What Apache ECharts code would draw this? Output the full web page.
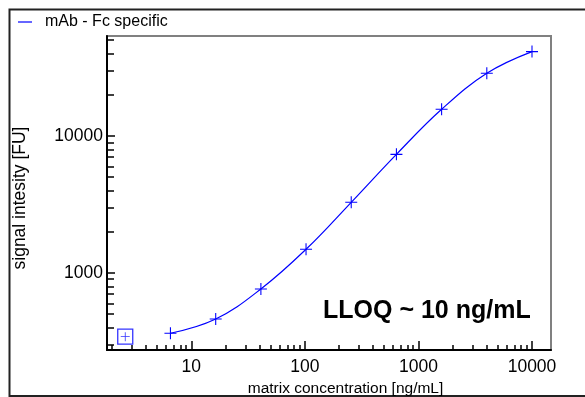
<!DOCTYPE html>
<html>
<head>
<meta charset="utf-8">
<script src="https://cdn.jsdelivr.net/npm/echarts@6/dist/echarts.min.js"></script>
<style>
html,body{margin:0;padding:0;background:#fff;}
#chart{width:585px;height:397px;}
</style>
</head>
<body>
<div id="chart"></div>
<script>
// ---- data ----
var seriesName = 'mAb - Fc specific';
var concentrations = [6.55, 16.4, 41.0, 102.4, 256, 640, 1600, 4000, 10000];
var signals = [363, 461, 764, 1489, 3281, 7346, 15660, 28700, 41300];
var blankConc = [2.62];
var blankSignal = [343];
var xTickLabels = [10, 100, 1000, 10000];
var yTickLabels = [1000, 10000];
var xRange = [1.81, 14700];
var yRange = [274, 53700];
var annotation = 'LLOQ ~ 10 ng/mL';
var xTitle = 'matrix concentration [ng/mL]';
var yTitle = 'signal intesity [FU]';

// ---- helpers ----
function lg(v){ return Math.log10(v); }
function minorTicks(lo, hi){
  var out = [];
  for (var e = Math.floor(lg(lo)); e <= Math.ceil(lg(hi)); e++){
    for (var k = 2; k <= 9; k++){
      var v = k * Math.pow(10, e);
      if (v >= lo && v <= hi) out.push(lg(v));
    }
  }
  return out;
}
var fmt = function(v){ return String(Math.round(Math.pow(10, v))); };
var FONT = 'Liberation Sans, Arial, sans-serif';
var BLUE = '#0000ff';
var plusPath = 'path://M4.55,0 H5.45 V4.55 H10 V5.45 H5.45 V10 H4.55 V5.45 H0 V4.55 H4.55 Z';

var mainData = concentrations.map(function(c, i){ return [lg(c), lg(signals[i])]; });
var blankData = blankConc.map(function(c, i){ return [lg(c), lg(blankSignal[i])]; });

var gridPos = {left: 107, top: 36, right: 34, bottom: 47, outerBoundsMode: 'none', containLabel: false};

var chart = echarts.init(document.getElementById('chart'), null, {renderer: 'canvas'});
var option = {
  animation: false,
  backgroundColor: '#ffffff',
  textStyle: {fontFamily: FONT},
  grid: [
    Object.assign({show: true, borderColor: '#808080', borderWidth: 2}, gridPos),
    Object.assign({show: false}, gridPos)
  ],
  legend: {
    data: [seriesName], left: 13, top: 9, icon: 'rect', itemWidth: 14, itemHeight: 1.2,
    textStyle: {fontSize: 16, color: '#000', fontFamily: FONT, padding: [0, 0, 0, 8]}
  },
  xAxis: [{
    gridIndex: 0, type: 'value', min: lg(xRange[0]), max: lg(xRange[1]),
    name: xTitle, nameLocation: 'middle', nameGap: 24,
    nameTextStyle: {fontSize: 15.5, color: '#000', fontFamily: FONT, padding: [0, 0, 0, 33]},
    axisLine: {show: true, lineStyle: {color: '#000', width: 2}},
    axisTick: {show: true, inside: true, length: 9, lineStyle: {color: '#000', width: 1.5}, customValues: xTickLabels.map(lg)},
    axisLabel: {show: true, color: '#000', fontSize: 17.5, margin: 8, fontFamily: FONT, customValues: xTickLabels.map(lg), formatter: fmt},
    splitLine: {show: false}
  }, {
    gridIndex: 1, type: 'value', min: lg(xRange[0]), max: lg(xRange[1]),
    axisLine: {show: false},
    axisTick: {show: true, inside: false, length: -5, lineStyle: {color: '#000', width: 1.5}, customValues: minorTicks(xRange[0], xRange[1])},
    axisLabel: {show: false},
    splitLine: {show: false}
  }],
  yAxis: [{
    gridIndex: 0, type: 'value', min: lg(yRange[0]), max: lg(yRange[1]),
    name: yTitle, nameLocation: 'middle', nameGap: 78, nameRotate: 90,
    nameTextStyle: {fontSize: 17.5, color: '#000', fontFamily: FONT, padding: [0, 10, 0, 0]},
    axisLine: {show: true, lineStyle: {color: '#000', width: 2}},
    axisTick: {show: true, inside: true, length: 8, lineStyle: {color: '#000', width: 1.5}, customValues: yTickLabels.map(lg)},
    axisLabel: {show: true, color: '#000', fontSize: 17.5, margin: 4, fontFamily: FONT, customValues: yTickLabels.map(lg), formatter: fmt},
    splitLine: {show: false}
  }, {
    gridIndex: 1, type: 'value', min: lg(yRange[0]), max: lg(yRange[1]),
    axisLine: {show: false},
    axisTick: {show: true, inside: false, length: -7, lineStyle: {color: '#000', width: 1.5}, customValues: minorTicks(yRange[0], yRange[1])},
    axisLabel: {show: false},
    splitLine: {show: false}
  }],
  series: [{
    name: seriesName, type: 'line', xAxisIndex: 0, yAxisIndex: 0,
    data: mainData, smooth: 0.4,
    symbol: plusPath, symbolSize: 12,
    itemStyle: {color: BLUE},
    lineStyle: {color: BLUE, width: 1.2},
    z: 3
  }, {
    name: 'blank-box', type: 'scatter', xAxisIndex: 0, yAxisIndex: 0,
    data: blankData, symbol: 'rect', symbolSize: 15,
    itemStyle: {color: 'rgba(0,0,0,0)', borderColor: BLUE, borderWidth: 1.3},
    z: 3
  }, {
    name: 'blank', type: 'scatter', xAxisIndex: 0, yAxisIndex: 0,
    data: blankData, symbol: plusPath, symbolSize: 9,
    itemStyle: {color: BLUE},
    z: 4
  }],
  graphic: [{
    type: 'rect', left: 7, top: 7, silent: true,
    shape: {width: 592, height: 386.5},
    style: {fill: 'none', stroke: '#222', lineWidth: 2}
  }, {
    type: 'text', left: 323, top: 299, silent: true,
    style: {text: annotation, fontSize: 25, fontWeight: 'bold', fontFamily: FONT, fill: '#000'}
  }]
};
chart.setOption(option);
</script>
</body>
</html>
